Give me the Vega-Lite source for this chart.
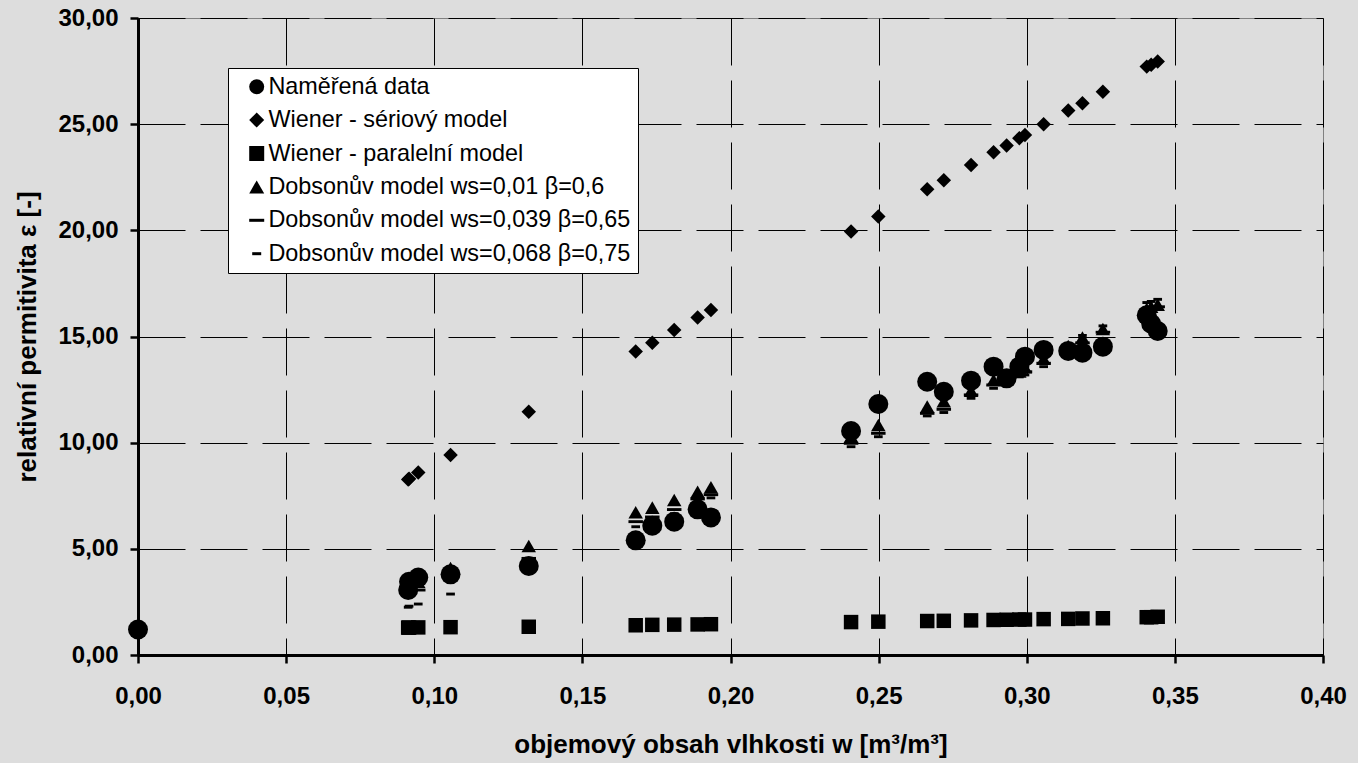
{
  "$schema": "https://vega.github.io/schema/vega-lite/v6.json",
  "width": 1185,
  "height": 637,
  "autosize": {"type": "none"},
  "padding": {"left": 138, "top": 18, "right": 35, "bottom": 108},
  "background": "#DDDDDD",
  "config": {
    "font": "Liberation Sans",
    "view": {"stroke": "#808080", "strokeWidth": 1},
    "axis": {
      "grid": true,
      "gridColor": "black",
      "gridWidth": 1,
      "gridDash": [47, 15],
      "domainColor": "black",
      "domainWidth": 3,
      "tickColor": "black",
      "tickWidth": 2.5,
      "tickSize": 8,
      "labelFont": "Liberation Sans",
      "labelFontWeight": "bold",
      "labelFontSize": 24,
      "labelColor": "black",
      "labelFlush": false,
      "titleFont": "Liberation Sans",
      "titleFontWeight": "bold",
      "titleFontSize": 26,
      "titleColor": "black",
      "labelExpr": "replace(format(datum.value, '.2f'), '.', ',')"
    }
  },
  "data": {
    "values": [
      {"serie": "Naměřená data", "w": 0.0, "eps": 1.2},
      {"serie": "Naměřená data", "w": 0.0912, "eps": 3.06},
      {"serie": "Naměřená data", "w": 0.0915, "eps": 3.45},
      {"serie": "Naměřená data", "w": 0.0946, "eps": 3.65},
      {"serie": "Naměřená data", "w": 0.1055, "eps": 3.8},
      {"serie": "Naměřená data", "w": 0.1319, "eps": 4.19},
      {"serie": "Naměřená data", "w": 0.168, "eps": 5.4},
      {"serie": "Naměřená data", "w": 0.1736, "eps": 6.09},
      {"serie": "Naměřená data", "w": 0.181, "eps": 6.28},
      {"serie": "Naměřená data", "w": 0.1889, "eps": 6.86},
      {"serie": "Naměřená data", "w": 0.1934, "eps": 6.48},
      {"serie": "Naměřená data", "w": 0.2407, "eps": 10.55},
      {"serie": "Naměřená data", "w": 0.2499, "eps": 11.82},
      {"serie": "Naměřená data", "w": 0.2664, "eps": 12.87},
      {"serie": "Naměřená data", "w": 0.272, "eps": 12.4},
      {"serie": "Naměřená data", "w": 0.2812, "eps": 12.92},
      {"serie": "Naměřená data", "w": 0.2888, "eps": 13.58},
      {"serie": "Naměřená data", "w": 0.2932, "eps": 13.03},
      {"serie": "Naměřená data", "w": 0.2975, "eps": 13.58},
      {"serie": "Naměřená data", "w": 0.2994, "eps": 14.05},
      {"serie": "Naměřená data", "w": 0.3057, "eps": 14.37},
      {"serie": "Naměřená data", "w": 0.314, "eps": 14.32},
      {"serie": "Naměřená data", "w": 0.3188, "eps": 14.24},
      {"serie": "Naměřená data", "w": 0.3257, "eps": 14.52},
      {"serie": "Naměřená data", "w": 0.3405, "eps": 16.0},
      {"serie": "Naměřená data", "w": 0.342, "eps": 15.6},
      {"serie": "Naměřená data", "w": 0.3442, "eps": 15.26},

      {"serie": "Wiener - sériový model", "w": 0.0912, "eps": 8.27},
      {"serie": "Wiener - sériový model", "w": 0.0915, "eps": 8.3},
      {"serie": "Wiener - sériový model", "w": 0.0946, "eps": 8.59},
      {"serie": "Wiener - sériový model", "w": 0.1055, "eps": 9.42},
      {"serie": "Wiener - sériový model", "w": 0.1319, "eps": 11.46},
      {"serie": "Wiener - sériový model", "w": 0.168, "eps": 14.29},
      {"serie": "Wiener - sériový model", "w": 0.1736, "eps": 14.71},
      {"serie": "Wiener - sériový model", "w": 0.181, "eps": 15.31},
      {"serie": "Wiener - sériový model", "w": 0.1889, "eps": 15.9},
      {"serie": "Wiener - sériový model", "w": 0.1934, "eps": 16.25},
      {"serie": "Wiener - sériový model", "w": 0.2407, "eps": 19.94},
      {"serie": "Wiener - sériový model", "w": 0.2499, "eps": 20.65},
      {"serie": "Wiener - sériový model", "w": 0.2664, "eps": 21.93},
      {"serie": "Wiener - sériový model", "w": 0.272, "eps": 22.36},
      {"serie": "Wiener - sériový model", "w": 0.2812, "eps": 23.08},
      {"serie": "Wiener - sériový model", "w": 0.2888, "eps": 23.68},
      {"serie": "Wiener - sériový model", "w": 0.2932, "eps": 24.0},
      {"serie": "Wiener - sériový model", "w": 0.2975, "eps": 24.34},
      {"serie": "Wiener - sériový model", "w": 0.2994, "eps": 24.49},
      {"serie": "Wiener - sériový model", "w": 0.3057, "eps": 25.0},
      {"serie": "Wiener - sériový model", "w": 0.314, "eps": 25.64},
      {"serie": "Wiener - sériový model", "w": 0.3188, "eps": 25.99},
      {"serie": "Wiener - sériový model", "w": 0.3257, "eps": 26.53},
      {"serie": "Wiener - sériový model", "w": 0.3405, "eps": 27.71},
      {"serie": "Wiener - sériový model", "w": 0.342, "eps": 27.8},
      {"serie": "Wiener - sériový model", "w": 0.3442, "eps": 27.95},

      {"serie": "Wiener - paralelní model", "w": 0.0912, "eps": 1.29},
      {"serie": "Wiener - paralelní model", "w": 0.0915, "eps": 1.29},
      {"serie": "Wiener - paralelní model", "w": 0.0946, "eps": 1.3},
      {"serie": "Wiener - paralelní model", "w": 0.1055, "eps": 1.31},
      {"serie": "Wiener - paralelní model", "w": 0.1319, "eps": 1.33},
      {"serie": "Wiener - paralelní model", "w": 0.168, "eps": 1.4},
      {"serie": "Wiener - paralelní model", "w": 0.1736, "eps": 1.42},
      {"serie": "Wiener - paralelní model", "w": 0.181, "eps": 1.43},
      {"serie": "Wiener - paralelní model", "w": 0.1889, "eps": 1.44},
      {"serie": "Wiener - paralelní model", "w": 0.1934, "eps": 1.45},
      {"serie": "Wiener - paralelní model", "w": 0.2407, "eps": 1.55},
      {"serie": "Wiener - paralelní model", "w": 0.2499, "eps": 1.57},
      {"serie": "Wiener - paralelní model", "w": 0.2664, "eps": 1.6},
      {"serie": "Wiener - paralelní model", "w": 0.272, "eps": 1.61},
      {"serie": "Wiener - paralelní model", "w": 0.2812, "eps": 1.63},
      {"serie": "Wiener - paralelní model", "w": 0.2888, "eps": 1.65},
      {"serie": "Wiener - paralelní model", "w": 0.2932, "eps": 1.66},
      {"serie": "Wiener - paralelní model", "w": 0.2975, "eps": 1.67},
      {"serie": "Wiener - paralelní model", "w": 0.2994, "eps": 1.67},
      {"serie": "Wiener - paralelní model", "w": 0.3057, "eps": 1.69},
      {"serie": "Wiener - paralelní model", "w": 0.314, "eps": 1.7},
      {"serie": "Wiener - paralelní model", "w": 0.3188, "eps": 1.72},
      {"serie": "Wiener - paralelní model", "w": 0.3257, "eps": 1.73},
      {"serie": "Wiener - paralelní model", "w": 0.3405, "eps": 1.78},
      {"serie": "Wiener - paralelní model", "w": 0.342, "eps": 1.78},
      {"serie": "Wiener - paralelní model", "w": 0.3442, "eps": 1.8},

      {"serie": "Dobsonův model ws=0,01 β=0,6", "w": 0.0912, "eps": 3.3},
      {"serie": "Dobsonův model ws=0,01 β=0,6", "w": 0.0915, "eps": 3.35},
      {"serie": "Dobsonův model ws=0,01 β=0,6", "w": 0.0946, "eps": 3.45},
      {"serie": "Dobsonův model ws=0,01 β=0,6", "w": 0.1055, "eps": 4.1},
      {"serie": "Dobsonův model ws=0,01 β=0,6", "w": 0.1319, "eps": 5.13},
      {"serie": "Dobsonův model ws=0,01 β=0,6", "w": 0.168, "eps": 6.72},
      {"serie": "Dobsonův model ws=0,01 β=0,6", "w": 0.1736, "eps": 6.94},
      {"serie": "Dobsonův model ws=0,01 β=0,6", "w": 0.181, "eps": 7.3},
      {"serie": "Dobsonův model ws=0,01 β=0,6", "w": 0.1889, "eps": 7.69},
      {"serie": "Dobsonův model ws=0,01 β=0,6", "w": 0.1934, "eps": 7.9},
      {"serie": "Dobsonův model ws=0,01 β=0,6", "w": 0.2407, "eps": 10.3},
      {"serie": "Dobsonův model ws=0,01 β=0,6", "w": 0.2499, "eps": 10.83},
      {"serie": "Dobsonův model ws=0,01 β=0,6", "w": 0.2664, "eps": 11.7},
      {"serie": "Dobsonův model ws=0,01 β=0,6", "w": 0.272, "eps": 11.95},
      {"serie": "Dobsonův model ws=0,01 β=0,6", "w": 0.2812, "eps": 12.45},
      {"serie": "Dobsonův model ws=0,01 β=0,6", "w": 0.2888, "eps": 12.95},
      {"serie": "Dobsonův model ws=0,01 β=0,6", "w": 0.2932, "eps": 13.15},
      {"serie": "Dobsonův model ws=0,01 β=0,6", "w": 0.2975, "eps": 13.35},
      {"serie": "Dobsonův model ws=0,01 β=0,6", "w": 0.2994, "eps": 13.55},
      {"serie": "Dobsonův model ws=0,01 β=0,6", "w": 0.3057, "eps": 13.95},
      {"serie": "Dobsonův model ws=0,01 β=0,6", "w": 0.314, "eps": 14.55},
      {"serie": "Dobsonův model ws=0,01 β=0,6", "w": 0.3188, "eps": 14.95},
      {"serie": "Dobsonův model ws=0,01 β=0,6", "w": 0.3257, "eps": 15.35},
      {"serie": "Dobsonův model ws=0,01 β=0,6", "w": 0.3405, "eps": 16.3},
      {"serie": "Dobsonův model ws=0,01 β=0,6", "w": 0.342, "eps": 16.4},
      {"serie": "Dobsonův model ws=0,01 β=0,6", "w": 0.3442, "eps": 16.5},

      {"serie": "Dobsonův model ws=0,039 β=0,65", "w": 0.0912, "eps": 2.9},
      {"serie": "Dobsonův model ws=0,039 β=0,65", "w": 0.0915, "eps": 2.95},
      {"serie": "Dobsonův model ws=0,039 β=0,65", "w": 0.0946, "eps": 3.06},
      {"serie": "Dobsonův model ws=0,039 β=0,65", "w": 0.1055, "eps": 3.55},
      {"serie": "Dobsonův model ws=0,039 β=0,65", "w": 0.1319, "eps": 4.55},
      {"serie": "Dobsonův model ws=0,039 β=0,65", "w": 0.168, "eps": 6.28},
      {"serie": "Dobsonův model ws=0,039 β=0,65", "w": 0.1736, "eps": 6.5},
      {"serie": "Dobsonův model ws=0,039 β=0,65", "w": 0.181, "eps": 6.85},
      {"serie": "Dobsonův model ws=0,039 β=0,65", "w": 0.1889, "eps": 7.35},
      {"serie": "Dobsonův model ws=0,039 β=0,65", "w": 0.1934, "eps": 7.55},
      {"serie": "Dobsonův model ws=0,039 β=0,65", "w": 0.2407, "eps": 9.97},
      {"serie": "Dobsonův model ws=0,039 β=0,65", "w": 0.2499, "eps": 10.44},
      {"serie": "Dobsonův model ws=0,039 β=0,65", "w": 0.2664, "eps": 11.38},
      {"serie": "Dobsonův model ws=0,039 β=0,65", "w": 0.272, "eps": 11.57},
      {"serie": "Dobsonův model ws=0,039 β=0,65", "w": 0.2812, "eps": 12.25},
      {"serie": "Dobsonův model ws=0,039 β=0,65", "w": 0.2888, "eps": 12.72},
      {"serie": "Dobsonův model ws=0,039 β=0,65", "w": 0.2932, "eps": 13.0},
      {"serie": "Dobsonův model ws=0,039 β=0,65", "w": 0.2975, "eps": 13.2},
      {"serie": "Dobsonův model ws=0,039 β=0,65", "w": 0.2994, "eps": 13.34},
      {"serie": "Dobsonův model ws=0,039 β=0,65", "w": 0.3057, "eps": 13.74},
      {"serie": "Dobsonův model ws=0,039 β=0,65", "w": 0.314, "eps": 14.35},
      {"serie": "Dobsonův model ws=0,039 β=0,65", "w": 0.3188, "eps": 14.7},
      {"serie": "Dobsonův model ws=0,039 β=0,65", "w": 0.3257, "eps": 15.2},
      {"serie": "Dobsonův model ws=0,039 β=0,65", "w": 0.3405, "eps": 16.2},
      {"serie": "Dobsonův model ws=0,039 β=0,65", "w": 0.342, "eps": 16.3},
      {"serie": "Dobsonův model ws=0,039 β=0,65", "w": 0.3442, "eps": 16.4},

      {"serie": "Dobsonův model ws=0,068 β=0,75", "w": 0.0912, "eps": 2.25},
      {"serie": "Dobsonův model ws=0,068 β=0,75", "w": 0.0915, "eps": 2.3},
      {"serie": "Dobsonův model ws=0,068 β=0,75", "w": 0.0946, "eps": 2.4},
      {"serie": "Dobsonův model ws=0,068 β=0,75", "w": 0.1055, "eps": 2.87},
      {"serie": "Dobsonův model ws=0,068 β=0,75", "w": 0.1319, "eps": 3.9},
      {"serie": "Dobsonův model ws=0,068 β=0,75", "w": 0.168, "eps": 6.04},
      {"serie": "Dobsonův model ws=0,068 β=0,75", "w": 0.1736, "eps": 6.3},
      {"serie": "Dobsonův model ws=0,068 β=0,75", "w": 0.181, "eps": 6.65},
      {"serie": "Dobsonův model ws=0,068 β=0,75", "w": 0.1889, "eps": 7.15},
      {"serie": "Dobsonův model ws=0,068 β=0,75", "w": 0.1934, "eps": 7.4},
      {"serie": "Dobsonův model ws=0,068 β=0,75", "w": 0.2407, "eps": 9.81},
      {"serie": "Dobsonův model ws=0,068 β=0,75", "w": 0.2499, "eps": 10.28},
      {"serie": "Dobsonův model ws=0,068 β=0,75", "w": 0.2664, "eps": 11.26},
      {"serie": "Dobsonův model ws=0,068 β=0,75", "w": 0.272, "eps": 11.42},
      {"serie": "Dobsonův model ws=0,068 β=0,75", "w": 0.2812, "eps": 12.09},
      {"serie": "Dobsonův model ws=0,068 β=0,75", "w": 0.2888, "eps": 12.56},
      {"serie": "Dobsonův model ws=0,068 β=0,75", "w": 0.2932, "eps": 12.9},
      {"serie": "Dobsonův model ws=0,068 β=0,75", "w": 0.2975, "eps": 13.1},
      {"serie": "Dobsonův model ws=0,068 β=0,75", "w": 0.2994, "eps": 13.19},
      {"serie": "Dobsonův model ws=0,068 β=0,75", "w": 0.3057, "eps": 13.58},
      {"serie": "Dobsonův model ws=0,068 β=0,75", "w": 0.314, "eps": 14.6},
      {"serie": "Dobsonův model ws=0,068 β=0,75", "w": 0.3188, "eps": 15.05},
      {"serie": "Dobsonův model ws=0,068 β=0,75", "w": 0.3257, "eps": 15.5},
      {"serie": "Dobsonův model ws=0,068 β=0,75", "w": 0.3405, "eps": 16.6},
      {"serie": "Dobsonův model ws=0,068 β=0,75", "w": 0.342, "eps": 16.65},
      {"serie": "Dobsonův model ws=0,068 β=0,75", "w": 0.3442, "eps": 16.75}
    ]
  },
  "encoding": {
    "x": {
      "field": "w",
      "type": "quantitative",
      "scale": {"domain": [0, 0.4], "nice": false, "zero": false},
      "axis": {
        "title": "objemový obsah vlhkosti w [m³/m³]",
        "values": [0, 0.05, 0.1, 0.15, 0.2, 0.25, 0.3, 0.35, 0.4],
        "labelPadding": 21,
        "titlePadding": 23
      }
    },
    "y": {
      "field": "eps",
      "type": "quantitative",
      "scale": {"domain": [0, 30], "nice": false},
      "axis": {
        "title": "relativní permitivita ε [-]",
        "values": [0, 5, 10, 15, 20, 25, 30],
        "labelPadding": 12,
        "titlePadding": 17
      }
    },
    "shape": {
      "field": "serie",
      "type": "nominal",
      "scale": {
        "domain": [
          "Naměřená data",
          "Wiener - sériový model",
          "Wiener - paralelní model",
          "Dobsonův model ws=0,01 β=0,6",
          "Dobsonův model ws=0,039 β=0,65",
          "Dobsonův model ws=0,068 β=0,75"
        ],
        "range": [
          "circle",
          "diamond",
          "square",
          "triangle-up",
          "M-1,-0.2H1V0.2H-1Z",
          "M-0.6,-0.2H0.6V0.2H-0.6Z"
        ]
      },
      "legend": {
        "title": null,
        "orient": "none",
        "legendX": 90,
        "legendY": 50,
        "direction": "vertical",
        "fillColor": "white",
        "strokeColor": "black",
        "padding": 7,
        "symbolOffset": 10,
        "symbolSize": 225,
        "symbolFillColor": "black",
        "symbolStrokeColor": "black",
        "symbolStrokeWidth": 0,
        "labelFont": "Liberation Sans",
        "labelFontSize": 23.4,
        "labelColor": "black",
        "labelOffset": 0,
        "labelLimit": 0,
        "rowPadding": 8.4
      }
    }
  },
  "layer": [
    {
      "transform": [{"filter": "datum.serie === 'Naměřená data'"}],
      "mark": {"type": "point", "filled": true, "color": "black", "opacity": 1, "strokeWidth": 0, "size": 400}
    },
    {
      "transform": [{"filter": "datum.serie !== 'Naměřená data'"}],
      "mark": {"type": "point", "filled": true, "color": "black", "opacity": 1, "strokeWidth": 0, "size": 210}
    }
  ]
}
